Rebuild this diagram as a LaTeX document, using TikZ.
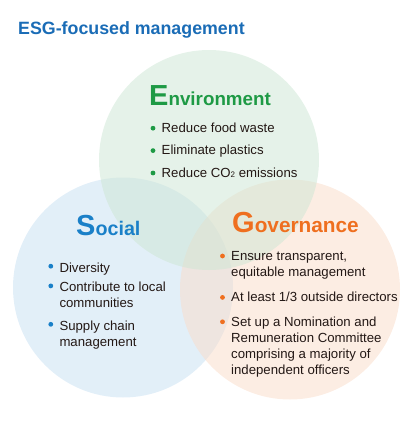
\documentclass[tikz,border=0pt]{standalone}
\usepackage{fontspec}
\setmainfont{Liberation Sans}
\usetikzlibrary{positioning}

\definecolor{titleblue}{HTML}{1A6CB6}
\definecolor{envgreen}{HTML}{1E9A45}
\definecolor{socblue}{HTML}{1A80C8}
\definecolor{govorange}{HTML}{EF6F1F}
\definecolor{envfill}{HTML}{CCE6D3}
\definecolor{socfill}{HTML}{C6DFF2}
\definecolor{govfill}{HTML}{F9DBC8}
\definecolor{ink}{HTML}{231815}

\newcommand{\headtext}[3]{{\fontsize{29}{29}\selectfont #1}{\fontsize{#3}{#3}\selectfont #2}}

\tikzset{
  venn/.style={fill opacity=0.5},
  head/.style={font=\bfseries, inner sep=0pt, anchor=base west},
  item/.style={font=\fontsize{13.2}{16}\selectfont, text=ink, align=left, inner sep=0pt, anchor=north west},
}

\begin{document}
\begin{tikzpicture}[x=1pt, y=-1pt]
\useasboundingbox (0,0) rectangle (420,439);

% circles
\fill [socfill, venn] (123,287.5) circle (110pt);
\fill [govfill, venn] (290,289.5) circle (110pt);
\fill [envfill, venn] (209,160) circle (110pt);

\node (title) [head, text=titleblue, font=\fontsize{17.8}{20}\selectfont\bfseries] at (18,34) {ESG-focused management};

% Environment
\node (envhead) [head, text=envgreen] at (149,105) {\headtext{E}{nvironment}{18.8}};
\node (envA) [item] at (161.5,120.8) {\strut Reduce food waste};
\node (envB) [item, below=6pt of envA.south west, anchor=north west] {\strut Eliminate plastics};
\node (envC) [item, below=6pt of envB.south west, anchor=north west] {\strut Reduce CO{\fontsize{8}{8}\selectfont\raisebox{-0.3pt}{2}} emissions};

% Social
\node (sochead) [head, text=socblue] at (76,235) {\headtext{S}{ocial}{19.7}};
\node (socA) [item] at (59.3,260.8) {\strut Diversity};
\node (socB) [item, below=3.3pt of socA.south west, anchor=north west] {\strut Contribute to local\\\strut communities};
\node (socC) [item, below=6pt of socB.south west, anchor=north west] {\strut Supply chain\\\strut management};

% Governance
\node (govhead) [head, text=govorange] at (232,232) {\headtext{G}{overnance}{20.8}};
\node (govA) [item] at (231,248.8) {\strut Ensure transparent,\\\strut equitable management};
\node (govB) [item, below=9pt of govA.south west, anchor=north west] {\strut At least 1/3 outside directors};
\node (govC) [item, below=8pt of govB.south west, anchor=north west] {\strut Set up a Nomination and\\\strut Remuneration Committee\\\strut comprising a majority of\\\strut independent officers};

% bullets
\foreach \n in {envA,envB,envC}
  \fill [envgreen] ([xshift=-8.5pt,yshift=-7.4pt]\n.north west) circle (2.4pt);
\foreach \n in {socA,socB,socC}
  \fill [socblue] ([xshift=-8.5pt,yshift=-5.4pt]\n.north west) circle (2.4pt);
\foreach \n in {govA,govB,govC}
  \fill [govorange] ([xshift=-8.5pt,yshift=-7.2pt]\n.north west) circle (2.4pt);
\end{tikzpicture}
\end{document}
